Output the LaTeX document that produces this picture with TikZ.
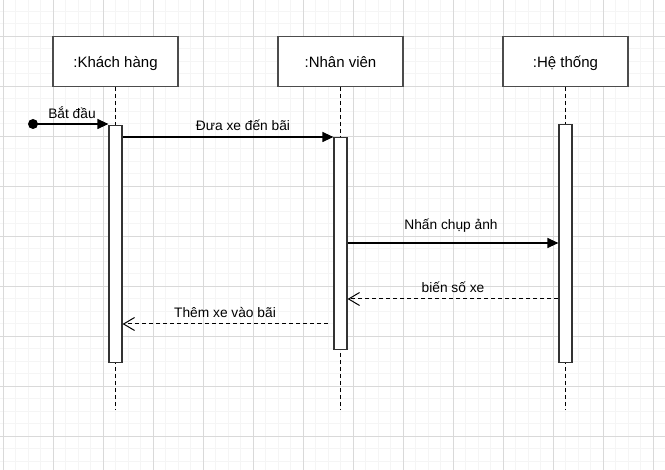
\documentclass[tikz,border=0pt]{standalone}
\usepackage{fontspec}
\setmainfont{Liberation Sans}
\usetikzlibrary{arrows.meta}
\begin{document}
\begin{tikzpicture}[x=1pt,y=-1pt,
  actor/.style={draw=black!70,line width=1.5pt,fill=white,minimum width=125pt,minimum height=50pt,inner sep=0pt,font=\fontsize{15}{18}\selectfont,text depth=0pt,text height=13pt},
  actbox/.style={draw=black!80,line width=1.2pt,fill=white,minimum width=13pt,inner sep=0pt,anchor=north},
  lifeline/.style={draw=black,line width=1pt,dash pattern=on 4pt off 3pt},
  msg/.style={draw=black,line width=1.2pt,-{Triangle[length=11pt,width=10pt]}},
  reply/.style={draw=black,line width=1pt,dash pattern=on 4pt off 3pt,-{Straight Barb[length=11pt,width=13pt,line width=1pt]}},
  lbl/.style={font=\fontsize{13.75}{16}\selectfont,inner sep=0pt}
]
\useasboundingbox (0,0) rectangle (665,470);
\fill[white] (0,0) rectangle (665,470);
% grid
\foreach \i in {0,...,53} {
  \draw[line width=0.8pt,black!4] ({3+12.5*\i},0) -- ({3+12.5*\i},470);
}
\foreach \j in {-2,...,36} {
  \draw[line width=0.8pt,black!4] (0,{36+12.5*\j}) -- (665,{36+12.5*\j});
}
\foreach \i in {0,...,13} {
  \draw[line width=0.8pt,black!15] ({3+50*\i},0) -- ({3+50*\i},470);
}
\foreach \j in {0,...,8} {
  \draw[line width=0.8pt,black!15] (0,{36+50*\j}) -- (665,{36+50*\j});
}
% actors
\node[actor] (kh) at (115.5,61.5) {:Khách hàng};
\node[actor] (nv) at (340.5,61.5) {:Nhân viên};
\node[actor] (ht) at (565.5,61.5) {:Hệ thống};
% lifeline ends
\coordinate (khend) at (115.5,410);
\coordinate (nvend) at (340.5,410);
\coordinate (htend) at (565.5,410);
\draw[lifeline] (kh.south) -- (khend);
\draw[lifeline] (nv.south) -- (nvend);
\draw[lifeline] (ht.south) -- (htend);
% activations
\node[actbox,minimum height=237pt] (akh) at (115.5,125) {};
\node[actbox,minimum height=212pt] (anv) at (340.5,137) {};
\node[actbox,minimum height=238pt] (aht) at (565.5,124) {};
% message rows
\coordinate (r0) at (0,124);
\coordinate (r1) at (0,137);
\coordinate (r2) at (0,243);
\coordinate (r3) at (0,299);
\coordinate (r4) at (0,324);
% start
\fill (33,124) circle (5pt) coordinate (start);
\draw[msg] (start) -- (akh.west |- r0);
\node[lbl] (l0) at (72,112.5) {Bắt đầu};
% messages
\draw[msg] (akh.east |- r1) -- (anv.west |- r1);
\node[lbl] (l1) at (243,125.5) {Đưa xe đến bãi};
\draw[msg] (anv.east |- r2) -- (aht.west |- r2);
\node[lbl] (l2) at (451,225.5) {Nhấn chụp ảnh};
\draw[reply] (aht.west |- r3) -- (anv.east |- r3);
\node[lbl] (l3) at (453,287.5) {biến số xe};
\coordinate (r4s) at (328,324);
\draw[reply] (r4s) -- (akh.east |- r4);
\node[lbl] (l4) at (225,312.5) {Thêm xe vào bãi};
\end{tikzpicture}
\end{document}
